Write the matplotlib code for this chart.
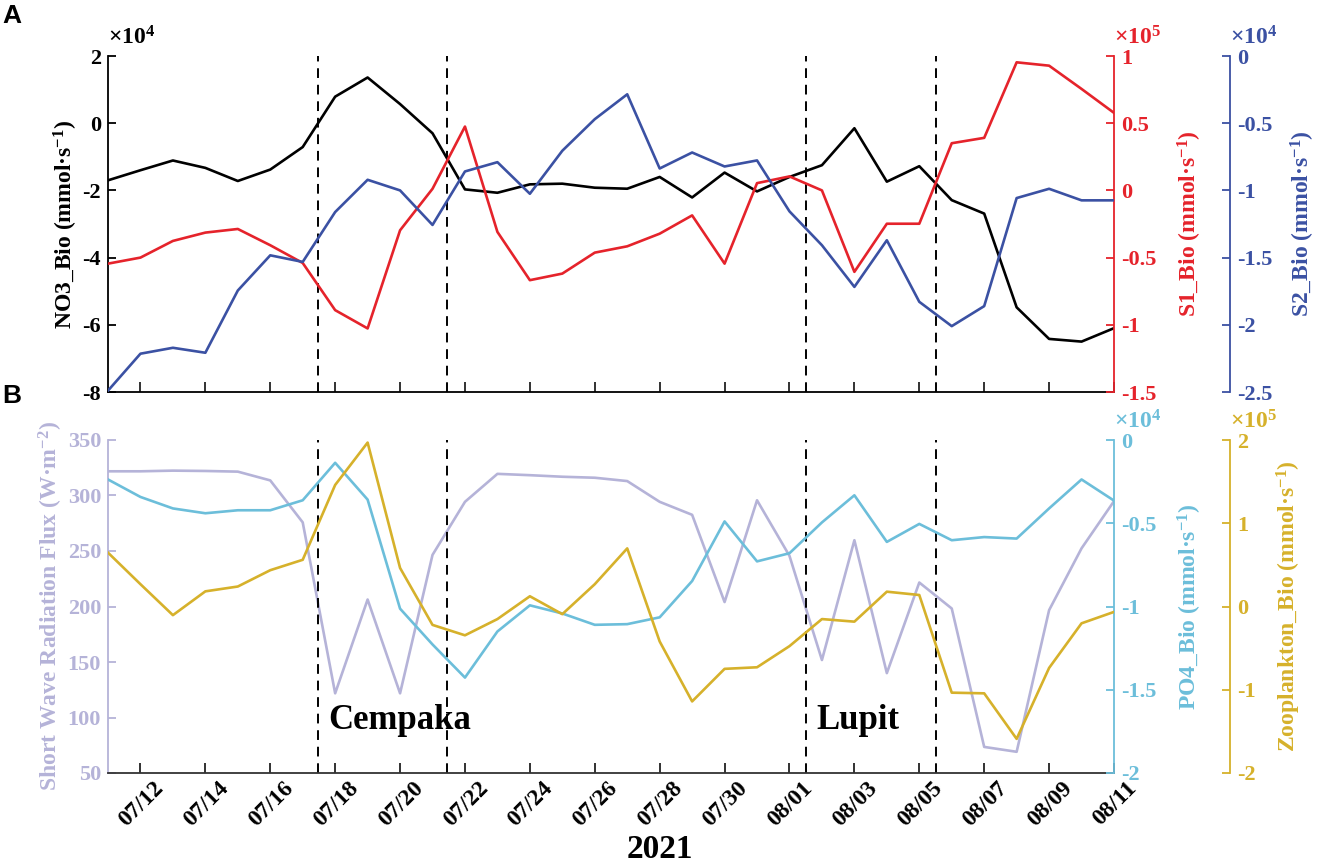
import numpy as np
import pandas as pd
import matplotlib
matplotlib.use('Agg')
import matplotlib.pyplot as plt
import matplotlib.dates as mdates
from matplotlib.ticker import FuncFormatter, MultipleLocator
from matplotlib.transforms import ScaledTranslation

plt.rcParams['font.family'] = ['Liberation Serif', 'DejaVu Serif']
plt.rcParams['font.weight'] = 'bold'
plt.rcParams['axes.labelweight'] = 'bold'
plt.rcParams['mathtext.default'] = 'regular'
plt.rcParams['axes.unicode_minus'] = False

# data (one value per day, 07/11 - 08/11 2021)
dates = pd.date_range('2021-07-11', '2021-08-11', freq='D')
tick_dates = pd.date_range('2021-07-12', '2021-08-11', freq='2D')
typhoon_lines = pd.to_datetime(['2021-07-17 11:00', '2021-07-21 11:00',
                                '2021-08-01 12:00', '2021-08-05 12:00'])

# panel A  (NO3 x1e4, S1 x1e5, S2 x1e4)
no3 = [-1.70, -1.40, -1.11, -1.33, -1.72, -1.38, -0.71, 0.79, 1.36, 0.57, -0.30,
       -1.97, -2.07, -1.82, -1.80, -1.92, -1.95, -1.60, -2.21, -1.47, -2.03, -1.60,
       -1.25, -0.15, -1.74, -1.28, -2.29, -2.69, -5.48, -6.42, -6.50, -6.10]
s1 = [-0.545, -0.50, -0.376, -0.314, -0.287, -0.408, -0.540, -0.891, -1.027, -0.297,
      0.012, 0.475, -0.309, -0.668, -0.619, -0.463, -0.416, -0.322, -0.186, -0.545,
      0.054, 0.104, 0.0, -0.606, -0.248, -0.248, 0.351, 0.391, 0.953, 0.928, 0.755, 0.577]
s2 = [-2.49, -2.215, -2.171, -2.208, -1.745, -1.483, -1.532, -1.161, -0.921, -1.000,
      -1.257, -0.859, -0.790, -1.025, -0.705, -0.470, -0.285, -0.837, -0.718, -0.822,
      -0.777, -1.156, -1.408, -1.718, -1.371, -1.829, -2.010, -1.861, -1.057, -0.988,
      -1.074, -1.074]

# panel B  (SW in W/m2, PO4 x1e4, Zooplankton x1e5)
sw = [321.8, 321.8, 322.4, 322.1, 321.5, 313.6, 275.8, 121.8, 206.3, 121.8, 246.5,
      294.3, 319.5, 318.3, 316.9, 316.0, 313.0, 294.3, 282.6, 204.0, 295.7, 245.6,
      151.8, 259.7, 140.0, 221.6, 198.2, 73.5, 69.1, 196.7, 252.4, 294.9]
po4 = [-0.237, -0.342, -0.411, -0.440, -0.422, -0.422, -0.362, -0.137, -0.358, -1.013,
       -1.228, -1.427, -1.150, -0.993, -1.042, -1.110, -1.106, -1.065, -0.847, -0.489,
       -0.729, -0.680, -0.495, -0.332, -0.612, -0.504, -0.602, -0.583, -0.592, -0.411,
       -0.237, -0.364]
zoo = [0.647, 0.268, -0.104, 0.182, 0.240, 0.436, 0.561, 1.460, 1.969, 0.463, -0.221,
       -0.346, -0.151, 0.123, -0.092, 0.268, 0.698, -0.42, -1.140, -0.749, -0.730,
       -0.476, -0.151, -0.182, 0.178, 0.138, -1.035, -1.043, -1.590, -0.738, -0.202,
       -0.065]

c_red = '#E5232B'
c_blue = '#3B51A3'
c_lav = '#B5B3D8'
c_cyan = '#6CBEDA'
c_gold = '#D6B12B'

fig = plt.figure(figsize=(13.21, 8.64), dpi=100)
W, H = 1321, 864
x0, x1 = 108, 1114
off = (1230 - x0) / (x1 - x0)
axA = fig.add_axes([x0 / W, 1 - 392 / H, (x1 - x0) / W, (392 - 56) / H])
axB = fig.add_axes([x0 / W, 1 - 773 / H, (x1 - x0) / W, (773 - 440) / H])

fmt = FuncFormatter(lambda v, p: f'{v:g}')
TS = 16
LS = 17
LW = 1.9


def style_axis(ax, color, side, lim, step, pos=None):
    for s in ax.spines.values():
        s.set_visible(False)
    sp = ax.spines[side]
    sp.set_visible(True)
    sp.set_color(color)
    sp.set_linewidth(1.3)
    if pos is not None:
        sp.set_position(('axes', pos))
    ax.set_ylim(*lim)
    ax.yaxis.set_major_locator(MultipleLocator(step))
    ax.yaxis.set_major_formatter(fmt)
    ax.tick_params(axis='y', direction='in', length=6, width=1.3, colors=color,
                   labelsize=TS, pad=5)
    ax.yaxis.set_label_position(side)
    ax.yaxis.set_ticks_position(side)


def exp_text(ax, s, color, xpos):
    ax.text(xpos, 1.0, s,
            transform=ax.transAxes + ScaledTranslation(0, 5 / 72, fig.dpi_scale_trans),
            ha='left', va='bottom', fontsize=17, color=color, fontweight='bold')


# ---- panel A
axA.plot(dates, no3, color='black', lw=LW)
style_axis(axA, 'black', 'left', (-8, 2), 2)
axA.spines['bottom'].set_visible(True)
axA.spines['bottom'].set_linewidth(1.3)
axA.set_ylabel('NO3_Bio (mmol·s$^{-1}$)', fontsize=LS, labelpad=2)
exp_text(axA, '×10$^{4}$', 'black', 0.0)

axA1 = axA.twinx()
axA1.plot(dates, s1, color=c_red, lw=LW)
style_axis(axA1, c_red, 'right', (-1.5, 1), 0.5)
axA1.set_ylabel('S1_Bio (mmol·s$^{-1}$)', fontsize=LS, color=c_red, labelpad=14)
exp_text(axA1, '×10$^{5}$', c_red, 1.0)

axA2 = axA.twinx()
axA2.plot(dates, s2, color=c_blue, lw=LW)
style_axis(axA2, c_blue, 'right', (-2.5, 0), 0.5, pos=off)
axA2.set_ylabel('S2_Bio (mmol·s$^{-1}$)', fontsize=LS, color=c_blue, labelpad=12)
exp_text(axA2, '×10$^{4}$', c_blue, off)

# ---- panel B
axB.plot(dates, sw, color=c_lav, lw=LW)
style_axis(axB, c_lav, 'left', (50, 350), 50)
axB.spines['bottom'].set_visible(True)
axB.spines['bottom'].set_color('#333333')
axB.spines['bottom'].set_linewidth(1.3)
axB.set_ylabel('Short Wave Radiation Flux (W·m$^{-2}$)', fontsize=LS, color=c_lav, labelpad=2)

axB1 = axB.twinx()
axB1.plot(dates, po4, color=c_cyan, lw=LW)
style_axis(axB1, c_cyan, 'right', (-2, 0), 0.5)
axB1.set_ylabel('PO4_Bio (mmol·s$^{-1}$)', fontsize=LS, color=c_cyan, labelpad=14)
exp_text(axB1, '×10$^{4}$', c_cyan, 1.0)

axB2 = axB.twinx()
axB2.plot(dates, zoo, color=c_gold, lw=LW)
style_axis(axB2, c_gold, 'right', (-2, 2), 1, pos=off)
axB2.set_ylabel('Zooplankton_Bio (mmol·s$^{-1}$)', fontsize=LS, color=c_gold, labelpad=14)
exp_text(axB2, '×10$^{5}$', c_gold, off)

# shared x handling
for ax in (axA, axB):
    ax.set_xlim(dates[0], dates[-1])
    ax.set_xticks(tick_dates)
    ax.xaxis.set_major_formatter(mdates.DateFormatter('%m/%d'))
    ax.tick_params(axis='x', direction='in', length=7, width=1.3, labelsize=17,
                   colors='#222222')
    for t in typhoon_lines:
        ax.axvline(t, color='black', ls=(0, (5, 3.5)), lw=1.4)

axA.tick_params(axis='x', labelbottom=False)
for lab in axB.get_xticklabels():
    lab.set_rotation(45)
    lab.set_ha('right')
    lab.set_rotation_mode('anchor')
    lab.set_color('black')
    lab.set_transform(lab.get_transform() + ScaledTranslation(9 / 72, 0, fig.dpi_scale_trans))

axB.text(pd.Timestamp('2021-07-17 19:00'), 97, 'Cempaka', fontsize=25, ha='left', va='center')
axB.text(pd.Timestamp('2021-08-01 20:00'), 97, 'Lupit', fontsize=25, ha='left', va='center')

fig.text(660 / W, 1 - 850 / H, '2021', fontsize=24, ha='center', va='center')
fig.text(2 / W, 1 - 16 / H, 'A', fontsize=19, family='Liberation Sans', ha='left', va='center')
fig.text(2 / W, 1 - 396 / H, 'B', fontsize=19, family='Liberation Sans', ha='left', va='center')

fig.savefig('out.png', dpi=100)
